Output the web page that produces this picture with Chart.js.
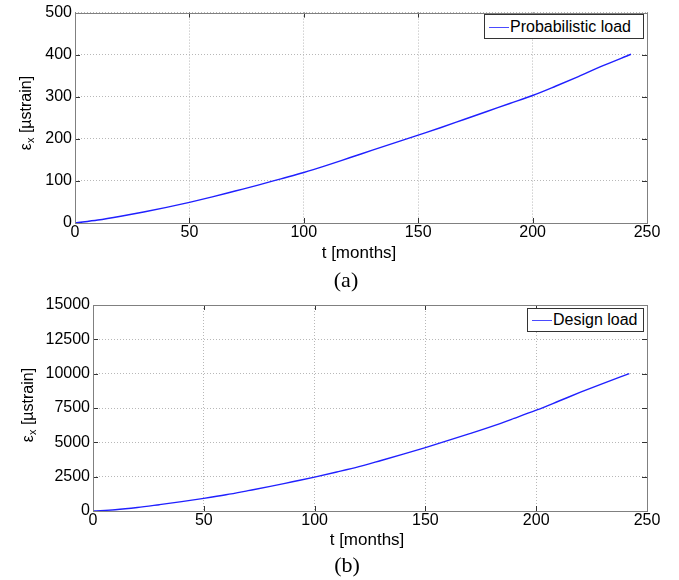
<!DOCTYPE html>
<html lang="en">
<head>
  <meta charset="UTF-8">
  <title>Strain vs time</title>
  <script src="https://cdn.jsdelivr.net/npm/chart.js"></script>
  <style>
    body { margin: 0; background: #fff; font-family: 'Liberation Sans', Arial, sans-serif; }
    #wrap { position: relative; width: 679px; height: 580px; overflow: hidden; }
    canvas { position: absolute; left: 0; }
    .lbl { position: absolute; white-space: nowrap; color: #000; transform: translate(-50%, -50%); }
    .xt { font-size: 17px; }
    .cap { font-family: 'Liberation Serif', 'Times New Roman', serif; font-size: 22px; }
    .yt { font-size: 16px; transform: translate(-50%, -50%) rotate(-90deg); }
    .yt sub { font-size: 11px; vertical-align: -3px; }
    .legend { position: absolute; border: 1px solid #333; background: #fff; font-size: 16px; height: 22px; line-height: 22px; box-sizing: border-box; }
    .legend span.ln { position: absolute; left: 4px; top: 10px; width: 20px; height: 0; border-top: 1.4px solid #4a4aff; }
    .legend span.tx { position: absolute; left: 25px; top: 0; }
  </style>
</head>
<body>
<div id="wrap">
  <canvas id="chartA" width="679" height="290" style="top:0"></canvas>
  <canvas id="chartB" width="679" height="290" style="top:290px"></canvas>

  <div class="lbl yt" style="left:26px; top:113px;">&epsilon;<sub>x</sub> [&micro;strain]</div>
  <div class="lbl xt" style="left:359px; top:253px;">t [months]</div>
  <div class="lbl cap" style="left:346px; top:280px;">(a)</div>
  <div class="legend" style="left:484px; top:14px; width:160px; height:25px;"><span class="ln" style="top:12px"></span><span class="tx" style="top:1px">Probabilistic load</span></div>

  <div class="lbl yt" style="left:28px; top:405px;">&epsilon;<sub>x</sub> [&micro;strain]</div>
  <div class="lbl xt" style="left:367px; top:540px;">t [months]</div>
  <div class="lbl cap" style="left:347px; top:565px;">(b)</div>
  <div class="legend" style="left:527px; top:308px; width:117px; height:24px;"><span class="ln" style="top:11px"></span><span class="tx" style="top:0px">Design load</span></div>
</div>
<script>
  // time axis (months)
  const monthsA = [0, 10, 20, 30, 40, 50, 60, 70, 80, 90, 100, 110, 120, 130, 140, 150, 160, 170, 180, 190, 200, 210, 220, 230, 243];
  // probabilistic load, microstrain
  const strainProb = [0, 7, 16, 26, 37, 49, 62, 76, 90, 105, 120, 137, 155, 173, 191, 209, 227, 246, 265, 284, 303, 325, 348, 372, 401];

  const monthsB = [0, 10, 20, 30, 40, 50, 60, 70, 80, 90, 100, 110, 120, 130, 140, 150, 160, 170, 180, 190, 200, 210, 220, 230, 242];
  // design load, microstrain
  const strainDesign = [0, 90, 250, 460, 680, 920, 1180, 1480, 1790, 2130, 2470, 2840, 3230, 3680, 4140, 4620, 5120, 5630, 6160, 6740, 7340, 7990, 8650, 9280, 10000];

  const xTicks = [0, 50, 100, 150, 200, 250];
  const yTicksA = [0, 100, 200, 300, 400, 500];
  const yTicksB = [0, 2500, 5000, 7500, 10000, 12500, 15000];

  const tickFont = { family: "'Liberation Sans', Arial, sans-serif", size: 16 };

  // matlab-like box with inward ticks
  const boxPlugin = {
    id: 'box',
    afterDatasetsDraw(chart) {
      const { ctx, chartArea: a, scales } = chart;
      ctx.save();
      ctx.strokeStyle = '#333';
      ctx.lineWidth = 1;
      ctx.beginPath();
      scales.x.ticks.forEach(t => {
        const px = Math.round(scales.x.getPixelForValue(t.value)) + 0.5;
        ctx.moveTo(px, a.bottom); ctx.lineTo(px, a.bottom - 5);
        ctx.moveTo(px, a.top); ctx.lineTo(px, a.top + 5);
      });
      scales.y.ticks.forEach(t => {
        const py = Math.round(scales.y.getPixelForValue(t.value)) + 0.5;
        ctx.moveTo(a.left, py); ctx.lineTo(a.left + 5, py);
        ctx.moveTo(a.right, py); ctx.lineTo(a.right - 5, py);
      });
      ctx.stroke();
      ctx.strokeStyle = '#808080';
      ctx.strokeRect(Math.round(a.left) + 0.5, Math.round(a.top) + 0.5,
        Math.round(a.right - a.left), Math.round(a.bottom - a.top));
      ctx.restore();
    }
  };

  function makeChart(id, xs, ys, yTicks, yMax, yWidth, pad) {
    const pts = xs.map((x, i) => ({ x: x, y: ys[i] }));
    return new Chart(document.getElementById(id), {
      type: 'line',
      data: {
        datasets: [{
          data: pts,
          borderColor: '#2020ff',
          borderWidth: 1.4,
          pointRadius: 0,
          cubicInterpolationMode: 'monotone',
          fill: false
        }]
      },
      options: {
        responsive: false,
        animation: false,
        layout: { padding: pad },
        plugins: { legend: { display: false }, tooltip: { enabled: false } },
        scales: {
          x: {
            type: 'linear', min: 0, max: 250,
            afterBuildTicks: s => { s.ticks = xTicks.map(v => ({ value: v })); },
            afterFit: s => { s.height = 20; },
            ticks: { font: tickFont, color: '#000', padding: 0, maxRotation: 0, callback: v => String(v) },
            grid: { color: '#b8b8b8', drawTicks: false, lineWidth: 1 },
            border: { display: false, dash: [1, 2] }
          },
          y: {
            type: 'linear', min: 0, max: yMax,
            afterBuildTicks: s => { s.ticks = yTicks.map(v => ({ value: v })); },
            afterFit: s => { s.width = yWidth; },
            ticks: { font: tickFont, color: '#000', padding: 3, callback: v => String(v) },
            grid: { color: '#b8b8b8', drawTicks: false, lineWidth: 1 },
            border: { display: false, dash: [1, 2] }
          }
        }
      },
      plugins: [boxPlugin]
    });
  }

  makeChart('chartA', monthsA, strainProb, yTicksA, 500, 75, { left: 0, top: 11, right: 32, bottom: 47 });
  makeChart('chartB', monthsB, strainDesign, yTicksB, 15000, 93, { left: 0, top: 15, right: 32, bottom: 49 });
</script>
</body>
</html>
